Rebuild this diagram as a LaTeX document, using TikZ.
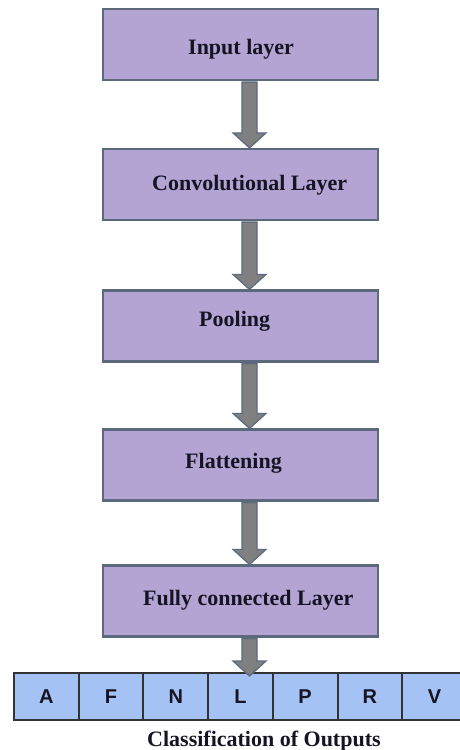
\documentclass[tikz,border=0pt]{standalone}
\usepackage{fontspec}
\setmainfont{Liberation Serif}
\newfontfamily\arialfont{Liberation Sans}
\usetikzlibrary{calc}
\definecolor{boxfill}{RGB}{179,164,212}
\definecolor{boxline}{RGB}{92,104,124}
\definecolor{cellfill}{RGB}{164,194,244}
\definecolor{arrfill}{RGB}{128,128,128}
\definecolor{arrline}{RGB}{94,106,126}
\definecolor{txt}{RGB}{22,20,35}
\newcommand{\blockarr}[4]{%
  \draw[barrow] let \p1=(#1.south), \p2=(#2.north) in
    ({#3pt-7.5pt},{\y1-1pt}) -- ({#3pt+7.5pt},{\y1-1pt}) -- ({#3pt+7.5pt},{\y2+15pt-#4pt}) --
    ({#3pt+16.5pt},{\y2+15pt-#4pt}) -- ({#3pt},{\y2-#4pt}) -- ({#3pt-16.5pt},{\y2+15pt-#4pt}) --
    ({#3pt-7.5pt},{\y2+15pt-#4pt}) -- cycle;}
\begin{document}
\begin{tikzpicture}[x=1pt,y=-1pt,
  layer/.style={draw=boxline, line width=2.2pt, fill=boxfill, minimum width=275pt, minimum height=71pt, inner sep=0pt},
  ltext/.style={font=\fontsize{22}{26}\selectfont\bfseries, text=txt, inner sep=0pt, anchor=base west},
  cell/.style={draw=black!80, line width=2pt, fill=cellfill, minimum width=64.7pt, minimum height=47pt, inner sep=0pt, font=\arialfont\fontsize{20}{24}\selectfont\bfseries, text=txt},
  barrow/.style={draw=arrline, line width=1.3pt, fill=arrfill, line join=miter},
]
\useasboundingbox (0,0) rectangle (460,750);
\clip (0,0) rectangle (460,750);

% layer boxes
\node[layer] (l1) at (240.5,44.5) {};
\node[layer] (l2) at (240.5,184.5) {};
\node[layer] (l3) at (240.5,326) {};
\node[layer] (l4) at (240.5,465) {};
\node[layer] (l5) at (240.5,601) {};

% layer texts
\node[ltext] (t1) at (188,54) {Input layer};
\node[ltext] (t2) at (152,190) {Convolutional Layer};
\node[ltext] (t3) at (199,326) {Pooling};
\node[ltext] (t4) at (185,468) {Flattening};
\node[ltext] (t5) at (143,605) {Fully connected Layer};

% output cells
\foreach \lab [count=\i] in {A,F,N,L,P,R,V} {
  \node[cell] (c\i) at ({14+64.7*(\i-0.5)},696.5) {\lab};
}

% arrows
\blockarr{l1}{l2}{249.5}{0}
\blockarr{l2}{l3}{249.5}{0}
\blockarr{l3}{l4}{249.5}{0}
\blockarr{l4}{l5}{249.5}{0}
\blockarr{l5}{c4}{249.5}{4}

% caption
\node[ltext] (cap) at (147,746) {Classification of Outputs};
\end{tikzpicture}
\end{document}
